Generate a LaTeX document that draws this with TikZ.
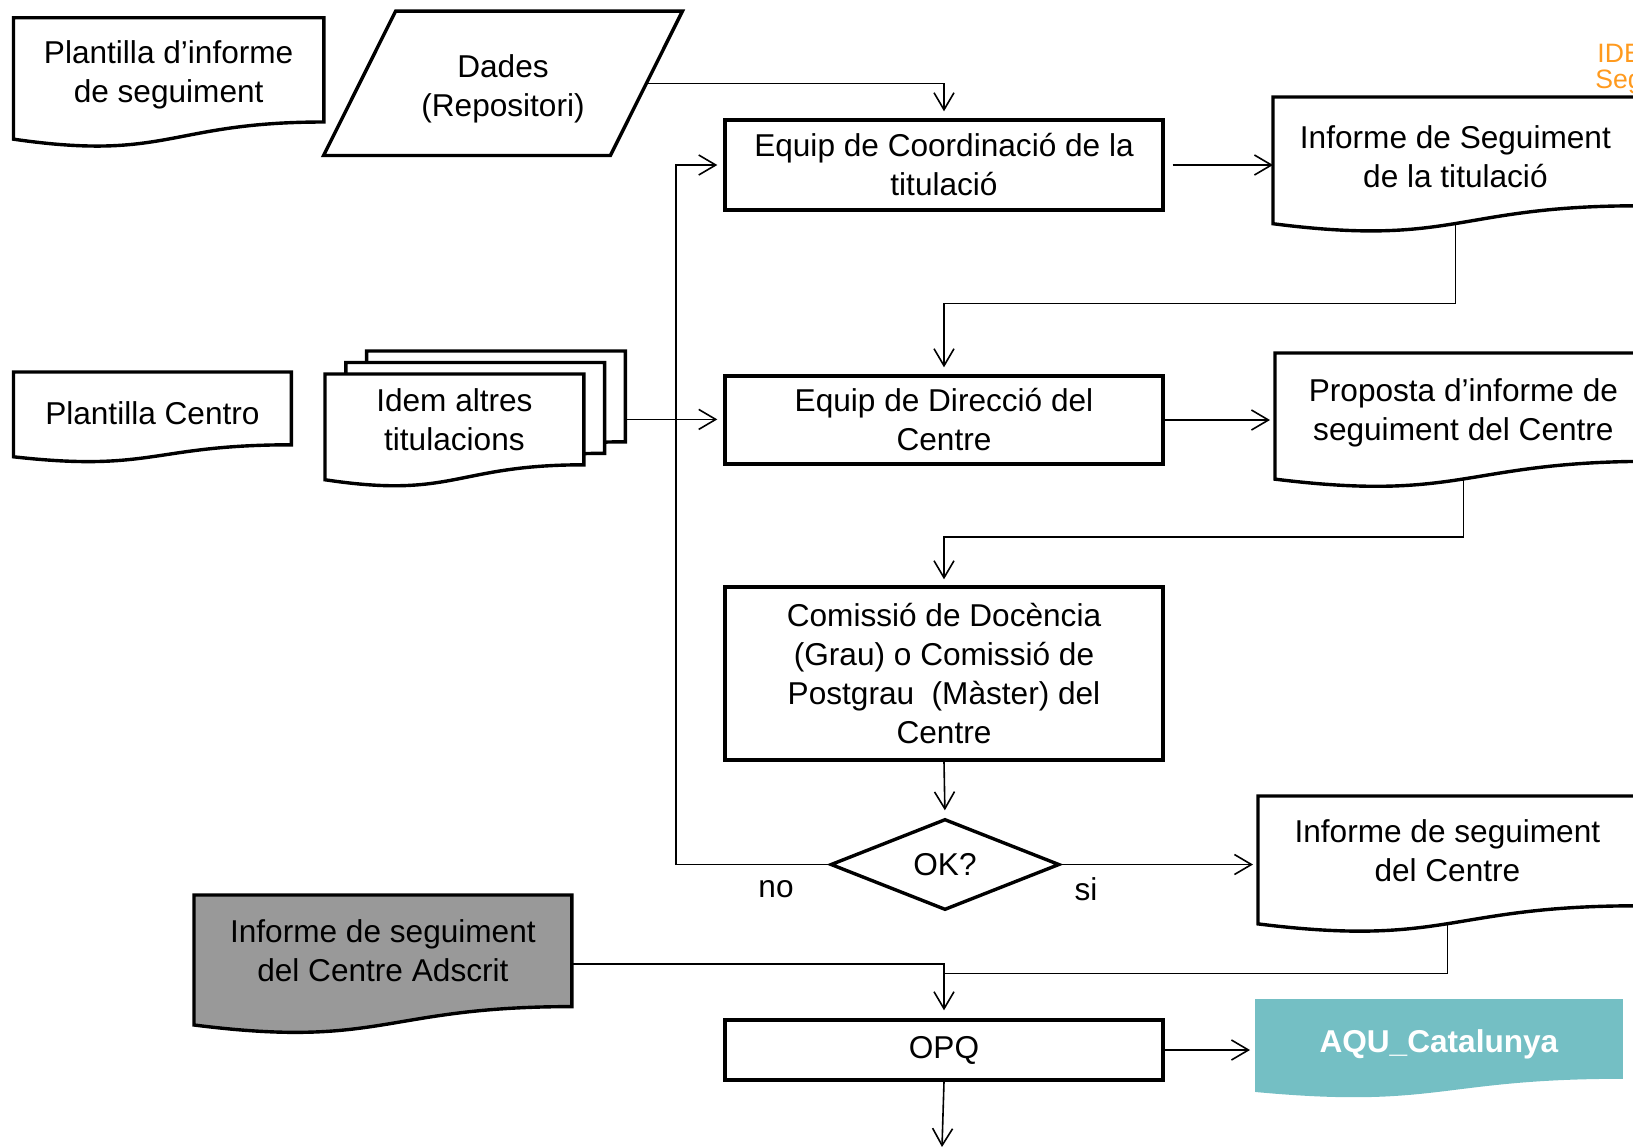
\documentclass[tikz,border=0pt]{standalone}
\usepackage{fontspec}
\setmainfont{Liberation Sans}
\usetikzlibrary{arrows.meta, calc, shapes.geometric}
\pgfdeclarelayer{background}
\pgfsetlayers{background,main}

\definecolor{adscritgray}{HTML}{999999}
\definecolor{aqublue}{HTML}{74BFC4}
\definecolor{ideorange}{HTML}{FF9A1E}

% document outline round a node (wavy bottom)
\newcommand\docshape[2]{%
  \draw[#2] (#1.north west) -- (#1.north east) -- (#1.south east)
    .. controls (#1.south) and ($(#1.north)!1.38!(#1.south)$)
    .. ($(#1.north west)!1.1646!(#1.south west)$) -- cycle;
  \coordinate (#1-b) at ($(#1.north)!1.163!(#1.south)$);
}
% taller first line, puts the text a little lower
\newcommand\docstrut{\rule{0pt}{16.7pt}}

\tikzset{
  txt/.style={font=\fontsize{15.8}{19.5}\selectfont, align=center, inner sep=0pt},
  doc/.style={txt, anchor=north west},
  procbox/.style={txt, draw, line width=1.7pt, minimum width=219pt},
  docline/.style={draw, line width=1.7pt, fill=white},
  conn/.style={line width=0.8pt, -{Straight Barb[length=8.5pt,width=10pt]}},
  plainline/.style={line width=0.8pt}
}

\begin{document}
\begin{tikzpicture}[x=0.5pt, y=-0.5pt]
 \path[use as bounding box, clip] (0,0) rectangle (1633,1147);

 % documents
 \node[doc, minimum width=154.75pt, minimum height=51.75pt] (pinf) at (13.5,17.7) {\docstrut Plantilla d’informe\\de seguiment};
 \node[doc, minimum width=138.5pt, minimum height=36pt] (pcen) at (13.5,372) {\docstrut Plantilla Centro};
 \node[doc, minimum width=129pt, minimum height=45pt] (idemb) at (366.6,351) {};
 \node[doc, minimum width=129pt, minimum height=45pt] (idemm) at (345.8,362.5) {};
 \node[doc, minimum width=129pt, minimum height=45pt] (idem) at (325,374) {Idem altres\\titulacions};
 \node[doc, minimum width=182pt, minimum height=54pt] (inf) at (1273,97) {\docstrut Informe de Seguiment\\de la titulació};
 \node[doc, minimum width=188pt, minimum height=53.75pt] (prop) at (1275,353) {\docstrut Proposta d’informe de\\seguiment del Centre};
 \node[doc, minimum width=189pt, minimum height=54.5pt] (cen) at (1258,796) {Informe de seguiment\\del Centre};
 \node[doc, minimum width=188.5pt, minimum height=55.4pt] (ads) at (194,895) {Informe de seguiment\\del Centre Adscrit};
 \node[doc, font=\bfseries\fontsize{15.8}{19.5}\selectfont, text=white, minimum width=183.5pt, minimum height=39.5pt] (aqu) at (1255,999) {\docstrut AQU\_Catalunya};

 % data
 \node[txt, minimum width=143pt, minimum height=71.75pt] (dades) at (503,83.3) {\docstrut Dades\\(Repositori)};
 \draw[line width=1.7pt] ($(dades.north west)+(36,0)$) -- ($(dades.north east)+(36,0)$)
   -- ($(dades.south east)+(-36,0)$) -- ($(dades.south west)+(-36,0)$) -- cycle;

 % process column
 \node[procbox, minimum height=45pt] (coord) at (944,165) {Equip de Coordinació de la\\titulació};
 \node[procbox, minimum height=44pt] (dir) at (944,420) {Equip de Direcció del\\Centre};
 \node[procbox, minimum height=86.5pt] (com) at (944,673.5) {Comissió de Docència\\(Grau) o Comissió de\\Postgrau~ (Màster) del\\Centre};
 \node[txt, draw, diamond, line width=1.7pt, minimum width=114.5pt, minimum height=45.5pt] (ok) at (945,864.5) {OK?};
 \node[procbox, minimum height=30pt] (opq) at (944,1050) {OPQ};

 \node[txt] (no) at (776,889) {no};
 \node[txt] (si) at (1086,889) {si};
 \node[txt, font=\fontsize{13.3}{16}\selectfont, text=ideorange, anchor=base west] (ide) at (1597,62) {IDE};
 \node[txt, font=\fontsize{13.3}{16}\selectfont, text=ideorange, anchor=base west] (seg) at (1595,88) {Seg};

 \begin{pgfonlayer}{background}
  \docshape{pinf}{docline}
  \docshape{pcen}{docline}
  \foreach \n in {idemb,idemm,idem} {\docshape{\n}{docline}}
  \docshape{inf}{docline}
  \docshape{prop}{docline}
  \docshape{cen}{docline}
  \docshape{ads}{docline, fill=adscritgray}
  \docshape{aqu}{fill=aqublue, draw=none}
 \end{pgfonlayer}

 % connectors
 \draw[conn, shorten >=3.5pt] (dades.east) -| (coord.north);
 \draw[conn, shorten <=4pt] (coord.east) -- (coord.east -| inf.west);
 \draw[conn, shorten >=3.5pt] (inf-b) -- ++(0,80) -| (dir.north);
 \draw[conn, shorten >=2.5pt] (dir.east) -- (dir.east -| prop.west);
 \draw[conn, shorten >=3pt] (prop-b) -- ++(0,58) -| (com.north);
 \draw[conn, shorten >=3.5pt] (com.south) -- (ok.north);
 \draw[conn, shorten >=3pt] (ok.west) -- ++(-153,0) |- (coord.west);
 \draw[conn, shorten >=2.5pt] (ok.east) -- (ok.east -| cen.west);
 \draw[plainline] (cen-b) |- ($(opq.north)+(0,-45)$);
 \draw[conn, shorten >=4pt] ($(ads.east)+(0,13)$) -| (opq.north);
 \draw[conn, shorten >=3pt] (idem.center -| idemb.east) -- (idem.center -| dir.west);
 \draw[conn, shorten >=2.5pt] (opq.east) -- (opq.east -| aqu.west);
 \coordinate (exit) at (942,1147);
 \draw[conn] (opq.south) -- (exit);
\end{tikzpicture}
\end{document}
